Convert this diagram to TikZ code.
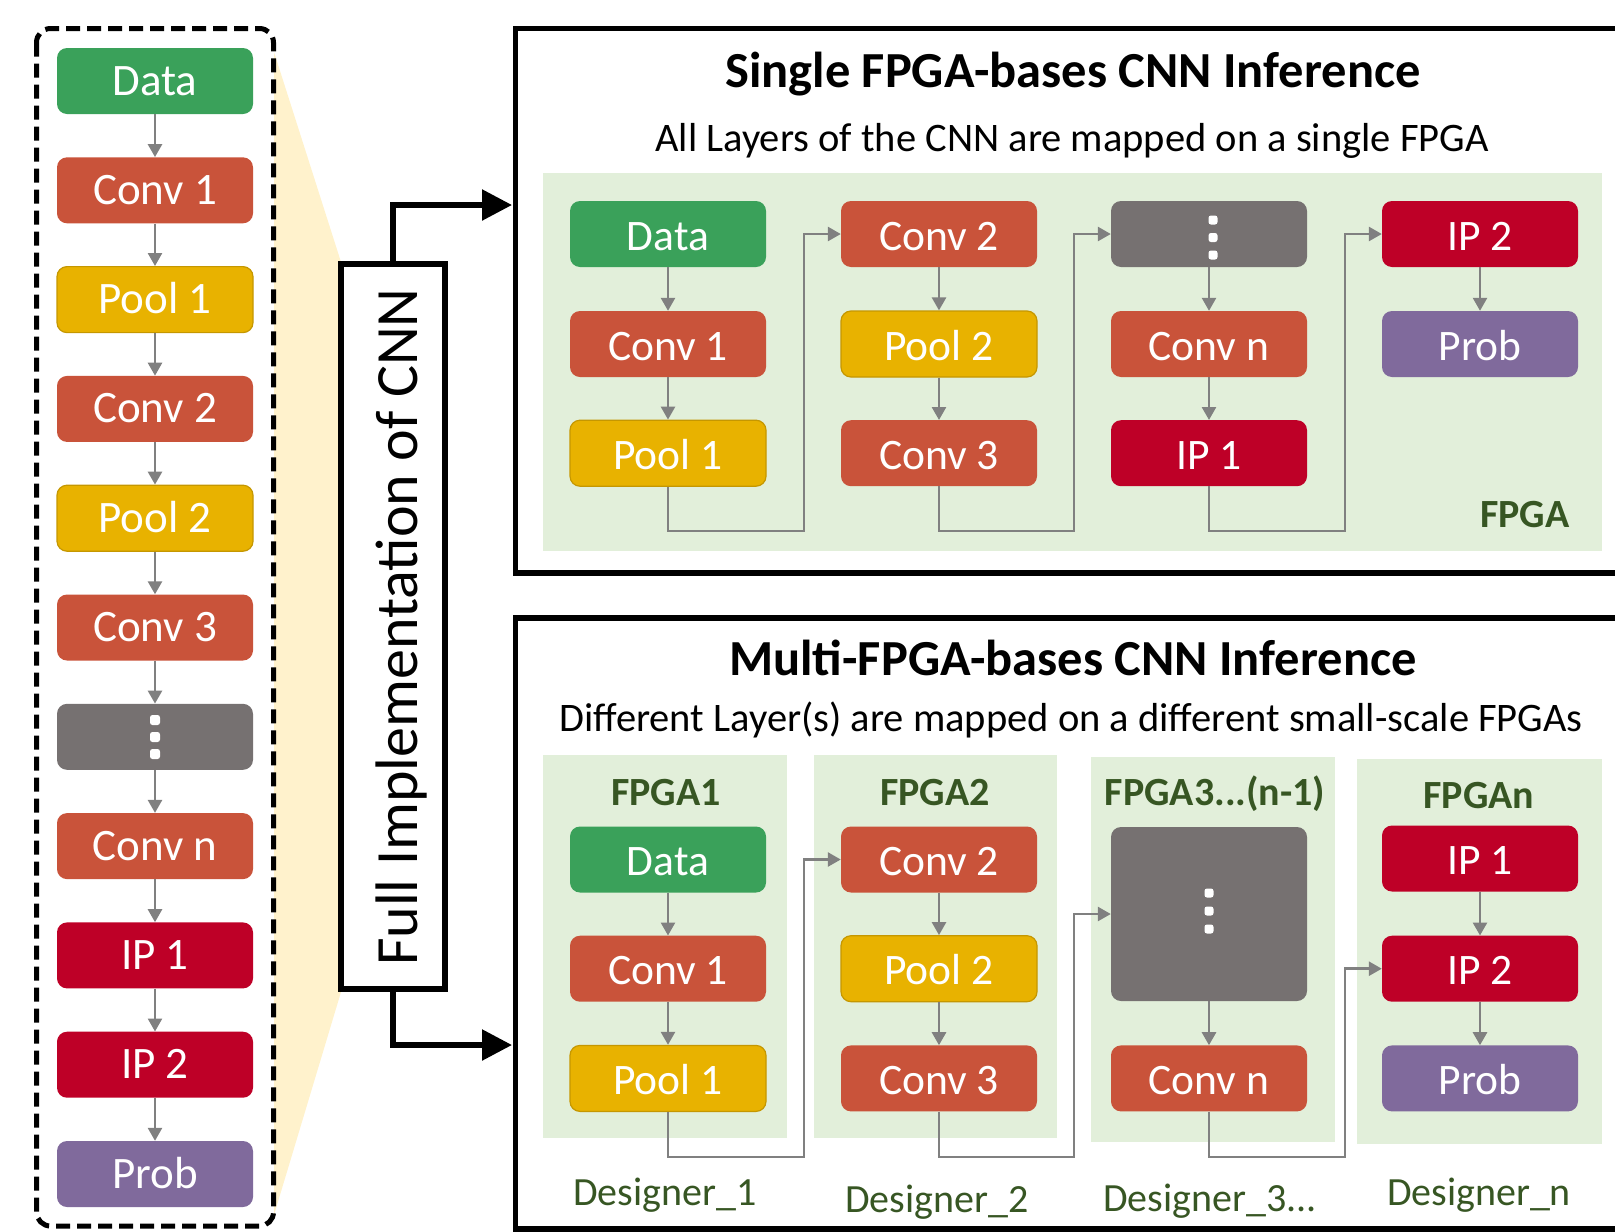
\documentclass[tikz,border=0pt]{standalone}
\usepackage{fontspec}
\setmainfont{Carlito}
\usetikzlibrary{arrows.meta}

\definecolor{cdata}{HTML}{3AA15A}
\definecolor{cconv}{HTML}{C9533A}
\definecolor{cpool}{HTML}{E8B200}
\definecolor{cdots}{HTML}{767171}
\definecolor{cip}{HTML}{BE0027}
\definecolor{cprob}{HTML}{806A9C}
\definecolor{bggreen}{HTML}{E2EFDA}
\definecolor{zoomyel}{HTML}{FFF2CC}
\definecolor{fpgatxt}{HTML}{375623}
\definecolor{linkgray}{HTML}{808080}

\tikzset{
  layer/.style={rounded corners=10pt, minimum width=196pt, minimum height=66pt,
    inner sep=0pt, text=white, text height=32pt, text depth=0pt,
    font=\fontsize{43.5pt}{50pt}\selectfont},
  llayer/.style={layer, text height=28pt, font=\fontsize{45pt}{50pt}\selectfont},
  datab/.style={fill=cdata},
  convb/.style={fill=cconv},
  poolb/.style={fill=cpool, draw=cpool!85!black, line width=1.2pt},
  dotsb/.style={fill=cdots},
  ipb/.style={fill=cip},
  probb/.style={fill=cprob},
  link/.style={draw=linkgray, line width=2.6pt, -{Triangle[length=13pt,width=14pt]}},
  route/.style={link, rounded corners=0pt},
  bigarrow/.style={draw=black, line width=5.5pt, -{Triangle[length=30pt,width=30pt]}},
  panel/.style={draw=black, line width=5.5pt},
  headline/.style={anchor=base, font=\fontsize{50.5pt}{56pt}\selectfont\bfseries},
  subline/.style={anchor=base, font=\fontsize{40.5pt}{46pt}\selectfont},
  fpgalabel/.style={anchor=base, text=fpgatxt, font=\fontsize{40pt}{46pt}\selectfont\bfseries},
  designer/.style={anchor=base, text=fpgatxt, font=\fontsize{40pt}{46pt}\selectfont},
  dot/.style={fill=white, rounded corners=2.5pt},
}

\begin{document}
\begin{tikzpicture}[x=1pt, y=-1pt]
\useasboundingbox (0,0) rectangle (1615,1232);

% ---------- zoom wedge between the layer stack and the label box ----------
\fill[zoomyel] (274,52) -- (341,262) -- (341,992) -- (274,1215) -- cycle;

% ---------- full layer stack ----------
\node[llayer, datab]  (l1)  at (155,81)     {Data};
\node[llayer, convb]  (l2)  at (155,190.3)  {Conv 1};
\node[llayer, poolb]  (l3)  at (155,299.6)  {Pool 1};
\node[llayer, convb]  (l4)  at (155,408.9)  {Conv 2};
\node[llayer, poolb]  (l5)  at (155,518.2)  {Pool 2};
\node[llayer, convb]  (l6)  at (155,627.5)  {Conv 3};
\node[llayer, dotsb]  (l7)  at (155,736.8)  {};
\node[llayer, convb]  (l8)  at (155,846.1)  {Conv n};
\node[llayer, ipb]    (l9)  at (155,955.4)  {IP 1};
\node[llayer, ipb]    (l10) at (155,1064.7) {IP 2};
\node[llayer, probb]  (l11) at (155,1174)   {Prob};
\foreach \yy in {720,737,754} \fill[dot] (150,\yy-5) rectangle (160,\yy+5);
\foreach \a/\b in {l1/l2,l2/l3,l3/l4,l4/l5,l5/l6,l6/l7,l7/l8,l8/l9,l9/l10,l10/l11}
  \draw[link] (\a.south) -- (\b.north);

\draw[line width=5pt, dash pattern=on 14pt off 7pt, rounded corners=14pt]
  (36.5,28.5) rectangle (273.5,1226);

% ---------- label box and its two outputs ----------
\node[draw=black, fill=white, line width=6pt, minimum width=104pt, minimum height=725pt,
      inner sep=0pt] (impl) at (393,626.5) {};
\node[anchor=base, rotate=90, font=\fontsize{60pt}{66pt}\selectfont] (impltxt) at (417,627)
  {Full Implementation of CNN};
\coordinate (topin) at (512,205);
\coordinate (botin) at (512,1045);
\draw[bigarrow] (impl.north) |- (topin);
\draw[bigarrow] (impl.south) |- (botin);

% ---------- single-FPGA panel ----------
\draw[panel] (1640,28.5) -- (515.5,28.5) -- (515.5,573) -- (1640,573);
\node[headline] (ttitle) at (1073,87) {Single FPGA-bases CNN Inference};
\node[subline] (tsub) at (1072,151) {All Layers of the CNN are mapped on a single FPGA};
\fill[bggreen] (543,173) rectangle (1602,551);
\node[fpgalabel] (tfpga) at (1525,527) {FPGA};

\node[layer, datab] (t11) at (668,234)   {Data};
\node[layer, convb] (t12) at (668,344)   {Conv 1};
\node[layer, poolb] (t13) at (668,453.2) {Pool 1};
\node[layer, convb] (t21) at (939,234)   {Conv 2};
\node[layer, poolb] (t22) at (939,344)   {Pool 2};
\node[layer, convb] (t23) at (939,453.2) {Conv 3};
\node[layer, dotsb] (t31) at (1209,234)  {};
\node[layer, convb] (t32) at (1209,344)  {Conv n};
\node[layer, ipb]   (t33) at (1209,453.2){IP 1};
\node[layer, ipb]   (t41) at (1480,234)  {IP 2};
\node[layer, probb] (t42) at (1480,344)  {Prob};
\foreach \yy in {220,237.5,255} \fill[dot] (1208.5,\yy-4.5) rectangle (1217.5,\yy+4.5);

\foreach \a/\b in {t11/t12,t12/t13,t21/t22,t22/t23,t31/t32,t32/t33,t41/t42}
  \draw[link] (\a.south) -- (\b.north);
\coordinate (tb1) at (804,531);
\coordinate (tb2) at (1074,531);
\coordinate (tb3) at (1345,531);
\draw[route] (t13.south) |- (tb1) |- (t21.west);
\draw[route] (t23.south) |- (tb2) |- (t31.west);
\draw[route] (t33.south) |- (tb3) |- (t41.west);

% ---------- multi-FPGA panel ----------
\draw[panel] (1640,618) -- (515.5,618) -- (515.5,1229) -- (1640,1229);
\node[headline] (btitle) at (1073,675) {Multi-FPGA-bases CNN Inference};
\node[subline] (bsub) at (1071,731) {Different Layer(s) are mapped on a different small-scale FPGAs};

\fill[bggreen] (543,755) rectangle (787,1138);
\fill[bggreen] (814,755) rectangle (1057,1138);
\fill[bggreen] (1091,757) rectangle (1335,1142);
\fill[bggreen] (1357,759) rectangle (1602,1144);
\node[fpgalabel] (f1) at (666,805)  {FPGA1};
\node[fpgalabel] (f2) at (935,805)  {FPGA2};
\node[fpgalabel] (f3) at (1215,805) {FPGA3...(n-1)};
\node[fpgalabel] (f4) at (1479,808) {FPGAn};

\node[layer, datab] (b11) at (668,859.5)  {Data};
\node[layer, convb] (b12) at (668,968.7)  {Conv 1};
\node[layer, poolb] (b13) at (668,1078.4) {Pool 1};
\node[layer, convb] (b21) at (939,859.5)  {Conv 2};
\node[layer, poolb] (b22) at (939,968.7)  {Pool 2};
\node[layer, convb] (b23) at (939,1078.4) {Conv 3};
\node[layer, dotsb, minimum height=174pt] (b31) at (1209,914) {};
\node[layer, convb] (b32) at (1209,1078.4) {Conv n};
\node[layer, ipb]   (b41) at (1480,858.5)  {IP 1};
\node[layer, ipb]   (b42) at (1480,968.7)  {IP 2};
\node[layer, probb] (b43) at (1480,1078.4) {Prob};
\foreach \yy in {893,911,929} \fill[dot] (1204.5,\yy-4.5) rectangle (1213.5,\yy+4.5);

\foreach \a/\b in {b11/b12,b12/b13,b21/b22,b22/b23,b31/b32,b41/b42,b42/b43}
  \draw[link] (\a.south) -- (\b.north);
\coordinate (bb1) at (804,1157);
\coordinate (bb2) at (1074,1157);
\coordinate (bb3) at (1345,1157);
\draw[route] (b13.south) |- (bb1) |- (b21.west);
\draw[route] (b23.south) |- (bb2) |- (b31.west);
\draw[route] (b32.south) |- (bb3) |- (b42.west);

\node[designer] (d1) at (665,1205)  {Designer\_1};
\node[designer] (d2) at (937,1212)  {Designer\_2};
\node[designer] (d3) at (1210,1211) {Designer\_3...};
\node[designer] (d4) at (1479,1205) {Designer\_n};
\end{tikzpicture}
\end{document}
